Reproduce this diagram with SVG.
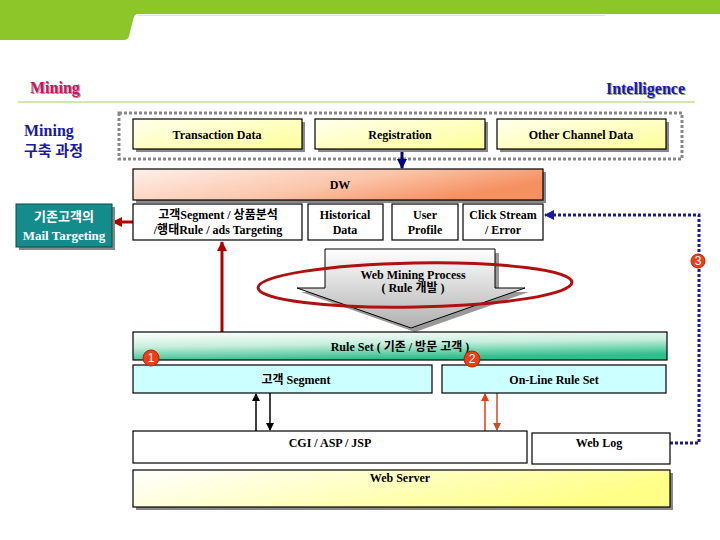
<svg xmlns="http://www.w3.org/2000/svg" width="720" height="540" viewBox="0 0 720 540">
<defs>
<linearGradient id="gYel" x1="0" y1="0" x2="1" y2="1"><stop offset="0" stop-color="#ffffee"/><stop offset="1" stop-color="#ffff99"/></linearGradient>
<linearGradient id="gDW" x1="0" y1="0" x2="1" y2="0.4"><stop offset="0" stop-color="#fff0ea"/><stop offset="0.6" stop-color="#fbc4a8"/><stop offset="1" stop-color="#f59060"/></linearGradient>
<linearGradient id="gRule" x1="0" y1="0" x2="0.3" y2="1"><stop offset="0" stop-color="#ffffff"/><stop offset="0.5" stop-color="#c8eedd"/><stop offset="1" stop-color="#2ec08c"/></linearGradient>
<linearGradient id="gWS" x1="0" y1="0" x2="1" y2="0.3"><stop offset="0" stop-color="#ffffff"/><stop offset="1" stop-color="#ffff88"/></linearGradient>
<linearGradient id="gArrow" x1="0" y1="0" x2="0" y2="1"><stop offset="0" stop-color="#ffffff"/><stop offset="1" stop-color="#b0b0b0"/></linearGradient>
<marker id="mBlack" markerWidth="8" markerHeight="8" refX="7" refY="4" orient="auto" markerUnits="userSpaceOnUse"><path d="M0,0 L8,4 L0,8 Z" fill="#000"/></marker>
<marker id="mOrange" markerWidth="8" markerHeight="8" refX="7" refY="4" orient="auto" markerUnits="userSpaceOnUse"><path d="M0,0 L8,4 L0,8 Z" fill="#e04010"/></marker>
<marker id="mBrown" markerWidth="8" markerHeight="8" refX="7" refY="4" orient="auto" markerUnits="userSpaceOnUse"><path d="M0,0 L8,4 L0,8 Z" fill="#c05030"/></marker>
<marker id="mRed" markerWidth="10" markerHeight="10" refX="9" refY="5" orient="auto" markerUnits="userSpaceOnUse"><path d="M0,0 L10,5 L0,10 Z" fill="#b00000"/></marker>
<marker id="mNavy" markerWidth="10" markerHeight="10" refX="9" refY="5" orient="auto" markerUnits="userSpaceOnUse"><path d="M0,0 L10,5 L0,10 Z" fill="#000080"/></marker>
<marker id="mBlue" markerWidth="10" markerHeight="10" refX="9" refY="5" orient="auto" markerUnits="userSpaceOnUse"><path d="M0,0 L10,5 L0,10 Z" fill="#1a1aa0"/></marker>
</defs>
<style>
.t{font-family:"Liberation Serif","Noto Sans CJK KR",serif;font-weight:bold;font-size:12px;fill:#000;text-anchor:middle}
.box{stroke:#000;stroke-width:1.2}
.sh{fill:#888}
.num{font-family:"Liberation Sans",sans-serif;font-size:12px;fill:#fff;text-anchor:middle}
.circ{fill:#e8401a;stroke:#c02000;stroke-width:1}
</style>
<rect width="720" height="540" fill="#fff"/>
<!-- header -->
<path d="M0,0 H720 V14 H138 Q134 14 133 20 L129 36 Q128 40 124 40 H0 Z" fill="#8cc628"/>
<line x1="138" y1="15.5" x2="605" y2="15.5" stroke="#d8eec0" stroke-width="1"/>
<line x1="18" y1="102" x2="695" y2="102" stroke="#cfe8b0" stroke-width="2"/>
<text x="31" y="94" font-family="Liberation Serif,serif" font-weight="bold" font-size="16" fill="#999">Mining</text>
<text x="30" y="93" font-family="Liberation Serif,serif" font-weight="bold" font-size="16" fill="#d01060">Mining</text>
<text x="686" y="95" font-family="Liberation Serif,serif" font-weight="bold" font-size="16" fill="#999" text-anchor="end">Intelligence</text>
<text x="685" y="94" font-family="Liberation Serif,serif" font-weight="bold" font-size="16" fill="#1a1ab0" text-anchor="end">Intelligence</text>
<text x="24" y="136" font-family="Liberation Serif,'Noto Sans CJK KR',serif" font-weight="bold" font-size="16" fill="#1a1aa0">Mining</text>
<text x="24" y="156" font-family="Liberation Serif,'Noto Sans CJK KR',serif" font-weight="bold" font-size="15" fill="#1a1aa0">구축 과정</text>
<!-- dashed source container -->
<rect x="119" y="113" width="563" height="46" fill="none" stroke="#888" stroke-width="3" stroke-dasharray="3,2"/>
<!-- connectors -->
<g id="connectors">
<line x1="402" y1="150" x2="402" y2="168" stroke="#000080" stroke-width="3" marker-end="url(#mNavy)"/>
<line x1="133" y1="222" x2="113" y2="222" stroke="#b00000" stroke-width="3" marker-end="url(#mRed)"/>
<line x1="222" y1="332" x2="222" y2="242" stroke="#b00000" stroke-width="3" marker-end="url(#mRed)"/>
<polyline points="670,443 699,443 699,215 545,215" fill="none" stroke="#1a1aa0" stroke-width="3" stroke-dasharray="3,2" marker-end="url(#mBlue)"/>
<line x1="256" y1="431" x2="256" y2="394" stroke="#000" stroke-width="1.5" marker-end="url(#mBlack)"/>
<line x1="270" y1="393" x2="270" y2="430" stroke="#000" stroke-width="1.5" marker-end="url(#mBlack)"/>
<line x1="485" y1="431" x2="485" y2="394" stroke="#e04010" stroke-width="1.5" marker-end="url(#mOrange)"/>
<line x1="497" y1="393" x2="497" y2="430" stroke="#c05030" stroke-width="1.5" marker-end="url(#mBrown)"/>
</g>
<g id="transaction"><rect x="136" y="122" width="169" height="30" class="sh"/><rect x="133" y="119" width="169" height="30" fill="url(#gYel)" class="box"/><text x="217" y="139" class="t">Transaction Data</text></g>
<g id="registration"><rect x="318" y="122" width="170" height="30" class="sh"/><rect x="315" y="119" width="170" height="30" fill="url(#gYel)" class="box"/><text x="400" y="139" class="t">Registration</text></g>
<g id="otherchannel"><rect x="500" y="122" width="169" height="30" class="sh"/><rect x="497" y="119" width="169" height="30" fill="url(#gYel)" class="box"/><text x="581" y="139" class="t">Other Channel Data</text></g>
<g id="dw"><rect x="136" y="172" width="410" height="31" class="sh"/><rect x="133" y="169" width="410" height="31" fill="url(#gDW)" class="box"/><text x="340" y="189" class="t">DW</text></g>
<g id="mailtarget"><rect x="19" y="207" width="96" height="43" class="sh"/><rect x="16" y="204" width="96" height="43" fill="#158c8c" stroke="#0a4a4a" stroke-width="1"/><text x="64" y="221" class="t" style="fill:#fff;font-size:13px">기존고객의</text><text x="64" y="240" class="t" style="fill:#fff;font-size:13px">Mail Targeting</text></g>
<g id="segmentanalysis"><rect x="133" y="204" width="169" height="36" fill="#fff" class="box"/><text x="218" y="219" class="t">고객Segment / 상품분석</text><text x="218" y="234" class="t">/행태Rule / ads Targeting</text></g>
<g id="historical"><rect x="308" y="204" width="75" height="36" fill="#fff" class="box"/><text x="345" y="219" class="t">Historical</text><text x="345" y="234" class="t">Data</text></g>
<g id="userprofile"><rect x="392" y="204" width="66" height="36" fill="#fff" class="box"/><text x="425" y="219" class="t">User</text><text x="425" y="234" class="t">Profile</text></g>
<g id="clickstream"><rect x="463" y="204" width="80" height="36" fill="#fff" class="box"/><text x="503" y="219" class="t">Click Stream</text><text x="503" y="234" class="t">/ Error</text></g>
<g id="webmining">
<path d="M329,253 H499 V292 H529 L415,332 L301,292 H329 Z" fill="#999"/>
<path d="M325,249 H495 V288 H525 L411,328 L297,288 H325 Z" fill="url(#gArrow)" stroke="#000" stroke-width="1"/>
<ellipse cx="415" cy="285" rx="157" ry="22" fill="none" stroke="#b01010" stroke-width="3" transform="rotate(-1 415 285)"/>
<text x="413" y="279" class="t">Web Mining Process</text>
<text x="413" y="292" class="t">( Rule 개발 )</text>
</g>
<g id="ruleset"><rect x="133" y="332" width="534" height="28" fill="url(#gRule)" class="box"/><text x="400" y="351" class="t">Rule Set ( 기존 / 방문 고객 )</text></g>
<g id="segment"><rect x="133" y="365" width="299" height="28" fill="#ccffff" class="box"/><text x="296" y="384" class="t">고객 Segment</text></g>
<g id="onlinerule"><rect x="442" y="365" width="224" height="28" fill="#ccffff" class="box"/><text x="554" y="384" class="t">On-Line Rule Set</text></g>
<g id="badge1"><circle cx="151" cy="358" r="8" class="circ"/><text x="151" y="362" class="num">1</text></g>
<g id="badge2"><circle cx="472" cy="359" r="8" class="circ"/><text x="472" y="363" class="num">2</text></g>
<g id="badge3"><circle cx="698" cy="261" r="7" class="circ"/><text x="698" y="265" class="num">3</text></g>
<g id="cgi"><rect x="133" y="431" width="394" height="32" fill="#fff" class="box"/><text x="330" y="447" class="t">CGI / ASP / JSP</text></g>
<g id="weblog"><rect x="532" y="433" width="138" height="31" fill="#fff" class="box"/><text x="599" y="447" class="t">Web Log</text></g>
<g id="webserver"><rect x="136" y="473" width="537" height="37" class="sh"/><rect x="133" y="470" width="537" height="37" fill="url(#gWS)" class="box"/><text x="400" y="482" class="t">Web Server</text></g>
</svg>
